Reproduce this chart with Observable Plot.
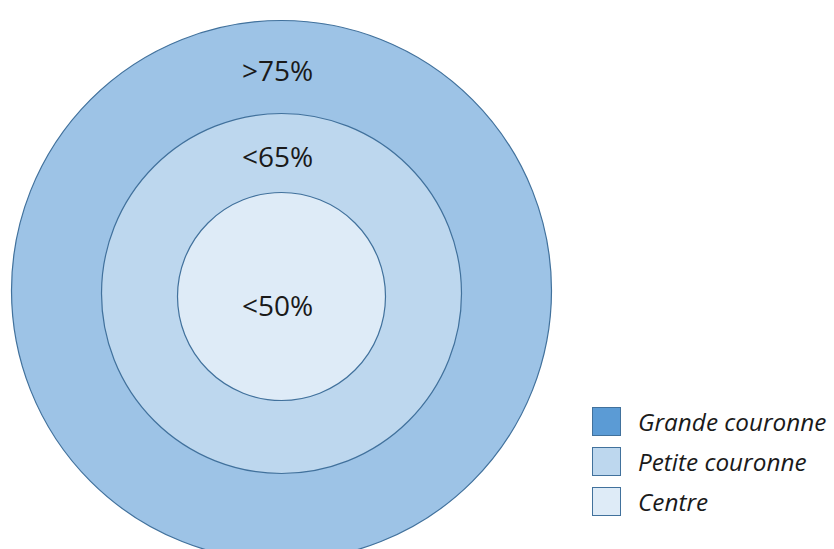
<!DOCTYPE html>
<html>
<head>
<meta charset="utf-8">
<script src="https://cdn.jsdelivr.net/npm/d3@7"></script>
<script src="https://cdn.jsdelivr.net/npm/@observablehq/plot@0.6"></script>
<style>
  html, body { margin: 0; padding: 0; background: #fff; }
  #wrap { position: relative; width: 834px; height: 549px; overflow: hidden; }
  #legend { position: absolute; left: 592px; top: 406px; font-family: "Open Sans", Lato, sans-serif; font-style: italic; font-size: 24.3px; color: #1a1a1a; }
  .item { display: flex; align-items: center; height: 30px; margin-bottom: 10px; white-space: nowrap; }
  .sw { width: 29px; height: 29px; box-sizing: border-box; border: 1.5px solid #41719C; margin-right: 17px; flex: none; }
</style>
</head>
<body>
<div id="wrap"></div>
<script>
// Data
const zones = ["Grande couronne", "Petite couronne", "Centre"];
const shares = [">75%", "<65%", "<50%"];
const legendZones = ["Grande couronne", "Petite couronne", "Centre"];

const rows = zones.map((z, i) => ({zone: z, label: shares[i]}));

// Styles (not data)
const ringFill = {"Grande couronne": "#9DC3E6", "Petite couronne": "#BDD7EE", "Centre": "#DEEBF7"};
const legendFill = {"Grande couronne": "#5B9BD5", "Petite couronne": "#BDD7EE", "Centre": "#DEEBF7"};
const ringR = [270, 180, 104];
const labelDy = [-218, -135, 11];

const marks = [];
rows.forEach((row, i) => {
  marks.push(Plot.dot([row], {
    y: "zone", r: ringR[i], fill: ringFill[row.zone],
    stroke: "#41719C", strokeWidth: 1.2
  }));
});
rows.forEach((row, i) => {
  marks.push(Plot.text([row], {
    y: "zone", text: "label", dy: labelDy[i], dx: -4,
    fontSize: 28, fill: "#1a1a1a", fontFamily: "'Open Sans', Lato, sans-serif"
  }));
});

const chart = Plot.plot({
  width: 834, height: 549,
  marginLeft: 0, marginRight: 272, marginTop: 0, marginBottom: 0,
  x: {axis: null},
  y: {type: "point", domain: zones, range: [287, 298], axis: null},
  style: {background: "transparent", overflow: "hidden"},
  marks
});
const wrap = document.getElementById("wrap");
wrap.appendChild(chart);

// Legend
const legend = document.createElement("div");
legend.id = "legend";
legendZones.forEach(z => {
  const it = document.createElement("div");
  it.className = "item";
  const sw = document.createElement("div");
  sw.className = "sw";
  sw.style.background = legendFill[z];
  const tx = document.createElement("span");
  tx.textContent = z;
  it.appendChild(sw); it.appendChild(tx);
  legend.appendChild(it);
});
wrap.appendChild(legend);
</script>
</body>
</html>
